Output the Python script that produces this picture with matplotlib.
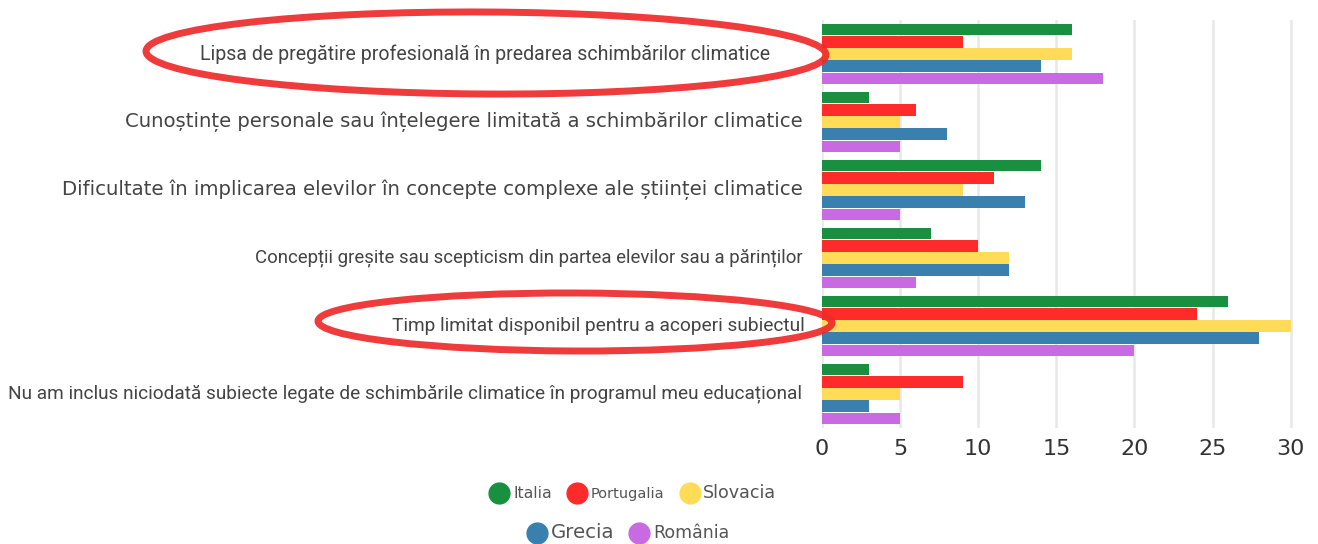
import matplotlib
matplotlib.use("Agg")
import matplotlib.pyplot as plt
import numpy as np
from matplotlib.patches import Ellipse
from matplotlib.lines import Line2D

categories = [
    "Lipsa de pregătire profesională în predarea schimbărilor climatice",
    "Cunoștințe personale sau înțelegere limitată a schimbărilor climatice",
    "Dificultate în implicarea elevilor în concepte complexe ale științei climatice",
    "Concepții greșite sau scepticism din partea elevilor sau a părinților",
    "Timp limitat disponibil pentru a acoperi subiectul",
    "Nu am inclus niciodată subiecte legate de schimbările climatice în programul meu educațional",
]
series_names = ["Italia", "Portugalia", "Slovacia", "Grecia", "România"]
italia = [16, 3, 14, 7, 26, 3]
portugalia = [9, 6, 11, 10, 24, 9]
slovacia = [16, 5, 9, 12, 30, 5]
grecia = [14, 8, 13, 12, 28, 3]
romania = [18, 5, 5, 6, 20, 5]
x_ticks = [0, 5, 10, 15, 20, 25, 30]

series_values = [italia, portugalia, slovacia, grecia, romania]
colors = ["#189040", "#ff2b2b", "#ffdb58", "#3a80ae", "#c86be2"]

W, H = 1318, 544
fig = plt.figure(figsize=(W / 100, H / 100), dpi=100)
ax = fig.add_axes([822 / W, 1 - 428 / H, (1300 - 822) / W, (428 - 20) / H])

n_cat = len(categories)
pos = np.arange(n_cat)
bh = 0.18
for i, (vals, col) in enumerate(zip(series_values, colors)):
    ax.barh(pos - 2 * bh + i * bh, vals, height=bh * 0.94, color=col, zorder=3)

ax.set_xlim(0, 30.6)
ax.set_ylim(n_cat - 0.5, -0.5)
ax.set_xticks(x_ticks)
ax.set_xticklabels([str(t) for t in x_ticks], fontsize=16, color="#333333")
ax.tick_params(axis="x", length=0, pad=8)
ax.set_yticks([])
ax.grid(axis="x", color="#e8e8e8", linewidth=1.8, zorder=0)
for s in ax.spines.values():
    s.set_visible(False)

# category labels, sized to match the reference
label_offsets = [-52, -19, -19, -19, -17, -20]
label_widths = [567, 677, 740, 548, 412, 792]
label_fonts = ["Roboto", "DejaVu Sans", "DejaVu Sans", "Roboto", "Roboto", "Roboto"]
texts = []
for p, lab, off, fam in zip(pos, categories, label_offsets, label_fonts):
    t = ax.annotate(lab, xy=(0, p), xycoords=("axes fraction", "data"),
                    xytext=(off, 0), textcoords="offset pixels",
                    ha="right", va="center", fontsize=12, color="#444444",
                    family=fam, annotation_clip=False)
    texts.append(t)

renderer = fig.canvas.get_renderer()
for t, w in zip(texts, label_widths):
    cur = t.get_window_extent(renderer).width
    t.set_fontsize(12 * w / cur)

# legends
handles = [Line2D([], [], marker="o", linestyle="none", markersize=15,
                  markerfacecolor=c, markeredgecolor=c) for c in colors]
leg_kw = dict(loc="center", frameon=False, handletextpad=0.25,
              columnspacing=1.0, handlelength=1.3, fontsize=11,
              borderpad=0, borderaxespad=0)
leg1 = fig.legend(handles[:3], series_names[:3], ncol=3,
                  bbox_to_anchor=(633 / W, 1 - 493 / H), **leg_kw)
leg2 = fig.legend(handles[3:], series_names[3:], ncol=2,
                  bbox_to_anchor=(628 / W, 1 - 533 / H), **leg_kw)
leg_widths = [39, 73, 73, 64, 76]
leg_texts = list(leg1.get_texts()) + list(leg2.get_texts())
for t, w in zip(leg_texts, leg_widths):
    t.set_color("#555555")
    cur = t.get_window_extent(renderer).width
    t.set_fontsize(11 * w / cur)

# hand-drawn highlight ellipses
e1 = Ellipse((486 / W, 1 - 53 / H), 680 / W, 82 / H, angle=-0.8,
             transform=fig.transFigure, fill=False, edgecolor="#ee2a2a",
             linewidth=5, alpha=0.92)
e2 = Ellipse((575 / W, 1 - 322 / H), 514 / W, 58 / H, angle=-0.5,
             transform=fig.transFigure, fill=False, edgecolor="#ee2a2a",
             linewidth=5, alpha=0.92)
fig.add_artist(e1)
fig.add_artist(e2)

fig.savefig("out.png", dpi=100, facecolor="white")
